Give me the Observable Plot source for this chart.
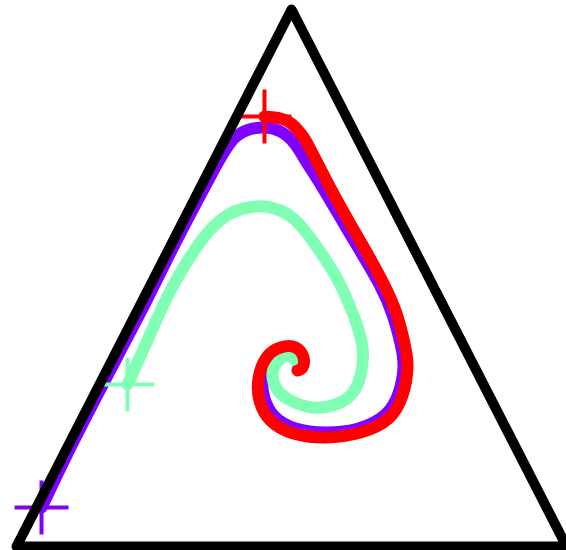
<!DOCTYPE html>
<html>
<head>
<meta charset="utf-8">
<script src="https://cdn.jsdelivr.net/npm/d3@7"></script>
<script src="https://cdn.jsdelivr.net/npm/@observablehq/plot@0.6"></script>
<style>
  html, body { margin: 0; padding: 0; background: #fff; }
  #chart svg { display: block; }
</style>
</head>
<body>
<div id="chart"></div>
<script>
// Simplex corners (x, y) in unit coordinates
const simplexX = [0, 1, 0.5, 0];
const simplexY = [0, 0, 1, 0];

// Trajectory 1 (violet), starting near the lower-left corner
const violetX = [0.0455, 0.0909, 0.1418, 0.1891, 0.2364, 0.2818, 0.3291, 0.3582, 0.3891, 0.4182, 0.4491, 0.4800, 0.5055, 0.5255, 0.5564, 0.5909, 0.6255, 0.6600, 0.6836, 0.6982, 0.7036, 0.6945, 0.6709, 0.6218, 0.5618, 0.5073, 0.4691, 0.4509, 0.4473, 0.4600, 0.4836, 0.5055, 0.5164, 0.5127];
const violetY = [0.0726, 0.1695, 0.2719, 0.3650, 0.4581, 0.5512, 0.6443, 0.7002, 0.7523, 0.7747, 0.7803, 0.7728, 0.7505, 0.7188, 0.6685, 0.6089, 0.5493, 0.4879, 0.4320, 0.3780, 0.3333, 0.2849, 0.2458, 0.2197, 0.2123, 0.2197, 0.2421, 0.2756, 0.3128, 0.3464, 0.3631, 0.3613, 0.3464, 0.3333];

// Trajectory 2 (aquamarine), starting on the left side
const aquaX = [0.2018, 0.2218, 0.2436, 0.2709, 0.2982, 0.3236, 0.3527, 0.3891, 0.4218, 0.4509, 0.4836, 0.5127, 0.5455, 0.5836, 0.6127, 0.6291, 0.6255, 0.6073, 0.5745, 0.5382, 0.4982, 0.4727, 0.4655, 0.4764, 0.4927, 0.5073];
const aquaY = [0.3017, 0.3464, 0.3966, 0.4581, 0.5102, 0.5512, 0.5903, 0.6201, 0.6313, 0.6331, 0.6238, 0.6015, 0.5587, 0.4972, 0.4302, 0.3706, 0.3184, 0.2812, 0.2626, 0.2588, 0.2719, 0.2942, 0.3240, 0.3464, 0.3557, 0.3464];

// Trajectory 3 (red), starting near the top
const redX = [0.4509, 0.4800, 0.5018, 0.5182, 0.5327, 0.5636, 0.5982, 0.6327, 0.6673, 0.6909, 0.7055, 0.7109, 0.7018, 0.6764, 0.6255, 0.5618, 0.5036, 0.4618, 0.4418, 0.4400, 0.4545, 0.4800, 0.5073, 0.5218, 0.5200, 0.5109];
const redY = [0.8007, 0.7970, 0.7858, 0.7672, 0.7430, 0.6816, 0.6164, 0.5549, 0.4898, 0.4339, 0.3780, 0.3333, 0.2812, 0.2384, 0.2123, 0.2030, 0.2104, 0.2346, 0.2719, 0.3128, 0.3520, 0.3706, 0.3706, 0.3520, 0.3333, 0.3277];

const colors = { violet: "#8000ff", aqua: "#80ffb4", red: "#ff0000" };

const toPoints = (xs, ys) => xs.map((x, i) => ({ x, y: ys[i] }));
const simplex = toPoints(simplexX, simplexY);
const violet = toPoints(violetX, violetY);
const aqua = toPoints(aquaX, aquaY);
const red = toPoints(redX, redY);

// Start markers: plain "+" drawn with strokes
const cross = {
  draw(ctx, size) {
    const r = Math.sqrt(size / Math.PI);
    ctx.moveTo(-r, 0); ctx.lineTo(r, 0);
    ctx.moveTo(0, -r); ctx.lineTo(0, r);
  }
};

const path = (data, stroke) => Plot.line(data, {
  x: "x", y: "y", stroke, strokeWidth: 12, curve: "natural",
  strokeLinecap: "round", strokeLinejoin: "round"
});
const start = (data, stroke) => Plot.dot([data[0]], {
  x: "x", y: "y", symbol: cross, r: 27, stroke, strokeWidth: 4, fill: "none"
});

const chart = Plot.plot({
  width: 566,
  height: 550,
  marginLeft: 16,
  marginRight: 0,
  marginTop: 9,
  marginBottom: 4,
  x: { domain: [0, 1], axis: null },
  y: { domain: [0, 1], axis: null },
  style: { background: "#fff", overflow: "visible" },
  marks: [
    path(violet, colors.violet),
    path(aqua, colors.aqua),
    path(red, colors.red),
    start(violet, colors.violet),
    start(aqua, colors.aqua),
    start(red, colors.red),
    Plot.line(simplex, {
      x: "x", y: "y", stroke: "#000", strokeWidth: 10,
      strokeLinejoin: "round", strokeLinecap: "round"
    })
  ]
});

document.getElementById("chart").appendChild(chart);
</script>
</body>
</html>
